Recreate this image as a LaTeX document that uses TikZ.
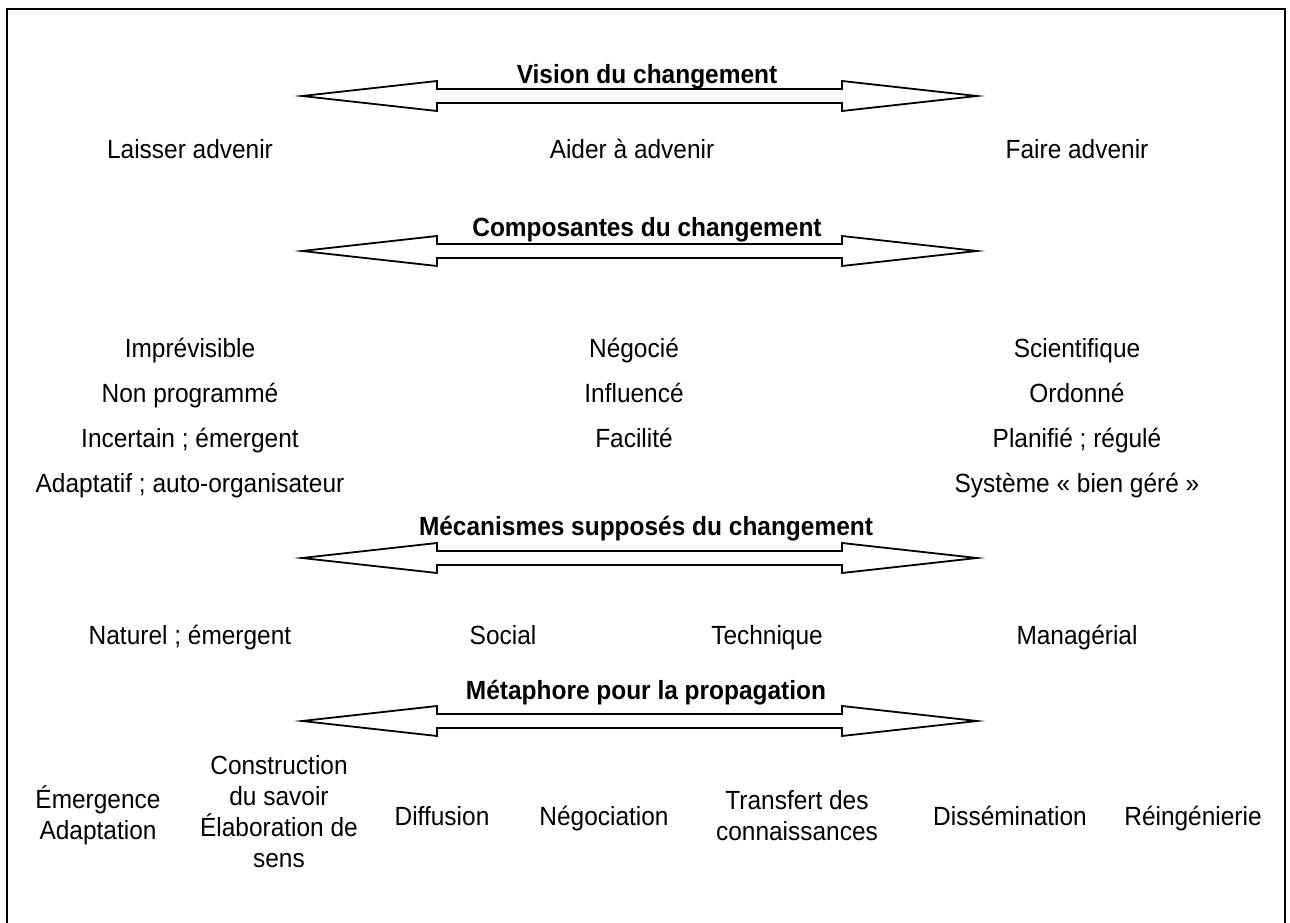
\documentclass[tikz,border=0pt]{standalone}
\usepackage{fontspec}
\setmainfont{Liberation Sans}[FakeStretch=0.93]
\begin{document}
\begin{tikzpicture}[x=1pt,y=-1pt,
  lbl/.style={font=\fontsize{26.3}{31}\selectfont, inner sep=0pt, align=center},
  one/.style={lbl, anchor=base},
  ttl/.style={one, font=\fontsize{26.3}{31}\selectfont\bfseries},
  arrline/.style={draw=black, line width=1.8pt, line join=miter, fill=white},
  dblarr/.pic={
    \draw[arrline] (-337.5,0) -- (-202.5,-15) -- (-202.5,-7) -- (202.5,-7)
      -- (202.5,-15) -- (337.5,0) -- (202.5,15) -- (202.5,7) -- (-202.5,7)
      -- (-202.5,15) -- cycle;
  }]
\useasboundingbox (0,0) rectangle (1290,923);

% open frame
\draw[line width=2pt] (7,923) -- (7,9) -- (1285,9) -- (1285,923);

% double arrows
\pic (vision) at (639.5,96) {dblarr};
\pic (compo) at (639.5,251) {dblarr};
\pic (meca) at (639.5,558) {dblarr};
\pic (meta) at (639.5,721) {dblarr};

% headings
\node[ttl] (tvision) at (647,84) {Vision du changement};
\node[ttl] (tcompo) at (647,236) {Composantes du changement};
\node[ttl] (tmeca) at (646,535) {Mécanismes supposés du changement};
\node[ttl] (tmeta) at (646,699) {Métaphore pour la propagation};

% vision
\node[one] (laisser) at (190,158) {Laisser advenir};
\node[one] (aider) at (632,158) {Aider à advenir};
\node[one] (faire) at (1077,158) {Faire advenir};

% components
\node[one] (l1) at (190,357) {Imprévisible};
\node[one] (l2) at (190,402) {Non programmé};
\node[one] (l3) at (190,447) {Incertain ; émergent};
\node[one] (l4) at (190,492) {Adaptatif ; auto-organisateur};
\node[one] (m1) at (634,357) {Négocié};
\node[one] (m2) at (634,402) {Influencé};
\node[one] (m3) at (634,447) {Facilité};
\node[one] (r1) at (1077,357) {Scientifique};
\node[one] (r2) at (1077,402) {Ordonné};
\node[one] (r3) at (1077,447) {Planifié ; régulé};
\node[one] (r4) at (1077,492) {Système « bien géré »};

% mechanisms
\node[one] (naturel) at (190,644) {Naturel ; émergent};
\node[one] (social) at (503,644) {Social};
\node[one] (technique) at (767,644) {Technique};
\node[one] (manag) at (1077,644) {Managérial};

% metaphors
\node[lbl] (emerg) at (98,815) {Émergence\\Adaptation};
\node[lbl] (constr) at (279,812) {Construction\\du savoir\\Élaboration de\\sens};
\node[one] (diff) at (442,825) {Diffusion};
\node[one] (nego) at (604,825) {Négociation};
\node[lbl] (transf) at (797,816) {Transfert des\\connaissances};
\node[one] (dissem) at (1010,825) {Dissémination};
\node[one] (reing) at (1193,825) {Réingénierie};
\end{tikzpicture}
\end{document}
